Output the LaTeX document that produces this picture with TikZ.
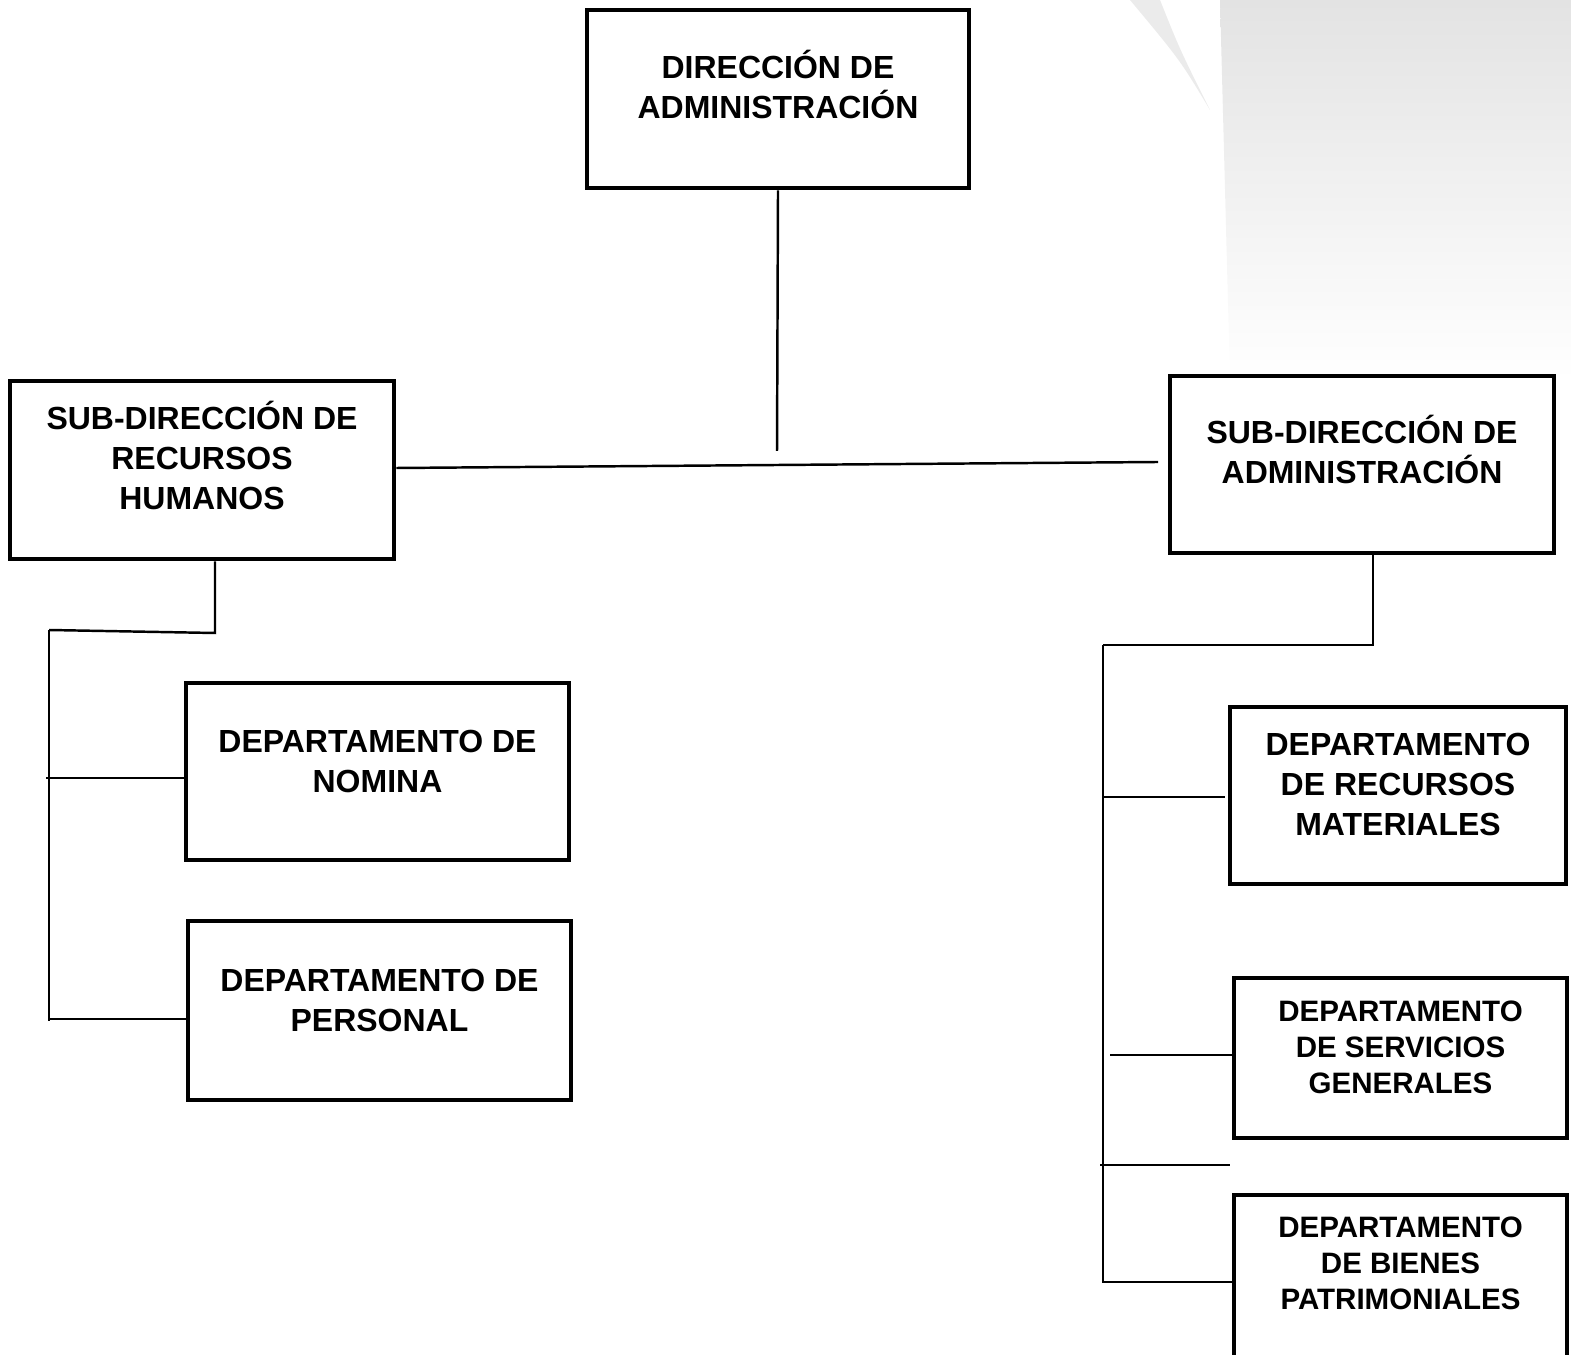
\documentclass[tikz,border=0pt]{standalone}
\usepackage{fontspec}
\setmainfont{Liberation Sans}
\usepackage{tikz}
\usetikzlibrary{positioning}

\tikzset{
  unitbox/.style={draw, line width=1.4pt, minimum width=#1, inner sep=0pt},
  unittxt/.style={align=center, inner sep=0pt, font=\bfseries\fontsize{9.1}{11.3}\selectfont},
  smalltxt/.style={align=center, inner sep=0pt, font=\bfseries\fontsize{8.4}{10.2}\selectfont},
  link/.style={line width=0.7pt}
}

\begin{document}
\begin{tikzpicture}
    \useasboundingbox (0,0) rectangle (15.71,-13.55);
    % faint background
    \shade[top color=black!11, bottom color=white] (12.2,0) -- (15.71,0) -- (15.71,-3.8) -- (12.3,-3.8) -- cycle;
    \fill[black!8] (11.3,0) -- (11.6,0) .. controls (11.8,-0.5) .. (12.1,-1.1) .. controls (11.8,-0.6) .. (11.3,0) -- cycle;

    % boxes
    \node [unitbox=3.82cm, minimum height=1.78cm] (dir) at (7.78,-0.99) {};
    \node [unitbox=3.84cm, minimum height=1.78cm] (rh)  at (2.02,-4.70) {};
    \node [unitbox=3.84cm, minimum height=1.77cm] (adm) at (13.62,-4.645) {};
    \node [unitbox=3.83cm, minimum height=1.77cm] (nom) at (3.775,-7.715) {};
    \node [unitbox=3.83cm, minimum height=1.79cm] (per) at (3.795,-10.105) {};
    \node [unitbox=3.36cm, minimum height=1.77cm] (mat) at (13.98,-7.955) {};
    \node [unitbox=3.33cm, minimum height=1.60cm] (ser) at (14.005,-10.58) {};
    \node [unitbox=3.33cm, minimum height=2.00cm] (bie) at (14.005,-12.95) {};

    % texts
    \node [unittxt, below=0.42cm of dir.north] (dir-t) {DIRECCIÓN DE\\ADMINISTRACIÓN};
    \node [unittxt, below=0.22cm of rh.north]  (rh-t)  {SUB-DIRECCIÓN DE\\RECURSOS\\HUMANOS};
    \node [unittxt, below=0.41cm of adm.north] (adm-t) {SUB-DIRECCIÓN DE\\ADMINISTRACIÓN};
    \node [unittxt, below=0.49cm of nom.north] (nom-t) {DEPARTAMENTO DE\\NOMINA};
    \node [unittxt, below=0.50cm of per.north] (per-t) {DEPARTAMENTO DE\\PERSONAL};
    \node [unittxt, below=0.28cm of mat.north] (mat-t) {DEPARTAMENTO\\DE RECURSOS\\MATERIALES};
    \node [smalltxt, below=0.25cm of ser.north] (ser-t) {DEPARTAMENTO\\DE SERVICIOS\\GENERALES};
    \node [smalltxt, below=0.24cm of bie.north] (bie-t) {DEPARTAMENTO\\DE BIENES\\PATRIMONIALES};

    % free ends of the connectors
    \coordinate (top-end) at (7.77,-4.51);
    \coordinate (mid-end) at (11.58,-4.62);
    \coordinate (l-drop) at (2.15,-6.33);
    \coordinate (l-bus1) at (0.49,-6.30);
    \coordinate (l-bus2) at (0.49,-10.21);
    \coordinate (l-nom)  at (0.46,-7.78);
    \coordinate (l-per)  at (0.48,-10.19);
    \coordinate (r-drop) at (13.73,-6.45);
    \coordinate (r-bus1) at (11.03,-6.45);
    \coordinate (r-bus2) at (11.03,-12.83);
    \coordinate (r-mat)  at (11.04,-7.97);
    \coordinate (r-mat2) at (12.25,-7.97);
    \coordinate (r-ser)  at (11.10,-10.55);
    \coordinate (r-mid)  at (11.00,-11.65);
    \coordinate (r-mid2) at (12.30,-11.65);
    \coordinate (r-bie)  at (11.04,-12.82);

    % connectors
    \draw [link] (dir.south) -- (top-end);
    \draw [link] (rh.east |- 0,-4.68) -- (mid-end);
    \draw [link] (rh.south -| l-drop) -- (l-drop) -- (l-bus1);
    \draw [link] (l-bus1) -- (l-bus2);
    \draw [link] (l-nom) -- (l-nom -| nom.west);
    \draw [link] (l-per) -- (l-per -| per.west);
    \draw [link] (adm.south -| r-drop) -- (r-drop) -- (r-bus1);
    \draw [link] (r-bus1) -- (r-bus2);
    \draw [link] (r-mat) -- (r-mat2);
    \draw [link] (r-ser) -- (r-ser -| ser.west);
    \draw [link] (r-mid) -- (r-mid2);
    \draw [link] (r-bie) -- (r-bie -| bie.west);
\end{tikzpicture}
\end{document}
